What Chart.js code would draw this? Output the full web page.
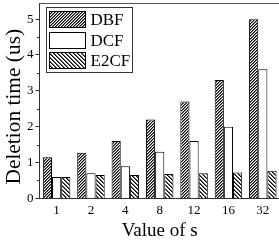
<!DOCTYPE html>
<html><head><meta charset="utf-8">
<script src="https://cdn.jsdelivr.net/npm/chart.js@4"></script>
<style>
html,body{margin:0;padding:0;overflow:hidden;background:#fff;width:279px;height:244px}
#wrap{width:281px;height:244px;position:relative}
</style>
</head><body><div id="wrap"><canvas id="c"></canvas></div>
<script>
const categories = ['1','2','4','8','12','16','32'];
const seriesNames = ['DBF','DCF','E2CF'];
const dbfValues = [1.15, 1.27, 1.6, 2.2, 2.7, 3.3, 5.0];
const dcfValues = [0.6, 0.7, 0.9, 1.3, 1.6, 2.0, 3.6];
const e2cfValues = [0.6, 0.65, 0.65, 0.68, 0.7, 0.72, 0.77];
const yTickValues = [0, 1, 2, 3, 4, 5];
const yMinorTickValues = [0.5, 1.5, 2.5, 3.5, 4.5];

const SERIF = '"Liberation Serif", "Times New Roman", serif';

function hatch(period, dir, shades) {
  const c = document.createElement('canvas');
  c.width = c.height = period;
  const g = c.getContext('2d');
  g.fillStyle = '#fff'; g.fillRect(0, 0, period, period);
  for (let y = 0; y < period; y++) for (let x = 0; x < period; x++) {
    const k = dir > 0 ? (x + y) % period : ((x - y) % period + period) % period;
    if (shades[k]) { g.fillStyle = shades[k]; g.fillRect(x, y, 1, 1); }
  }
  return g.createPattern(c, 'repeat');
}
const ctx = document.getElementById('c').getContext('2d');
const patDBF = hatch(3, 1, ['#000', '#777', null]);
const patE2CF = hatch(4, -1, ['#000', '#666', null, null]);

const framePlugin = {
  id: 'frame',
  afterLayout(chart) {
    const ys = chart.scales.y;
    if (!ys._titleShifted) {
      const orig = ys.drawTitle;
      ys.drawTitle = function () {
        const c = this.ctx; c.save(); c.translate(0, 6); orig.apply(this, arguments); c.restore();
      };
      ys._titleShifted = true;
    }
  },
  afterDraw(chart) {
    const { ctx, chartArea: a } = chart;
    ctx.save();
    ctx.strokeStyle = '#555'; ctx.lineWidth = 1;
    ctx.beginPath();
    const t = Math.round(a.top) + 0.5;
    ctx.moveTo(a.left, t); ctx.lineTo(a.right, t);
    ctx.moveTo(Math.round(a.right) - 0.5, t); ctx.lineTo(Math.round(a.right) - 0.5, a.bottom);
    ctx.stroke();
    const ys = chart.scales.y;
    ctx.strokeStyle = '#333';
    ctx.beginPath();
    yMinorTickValues.forEach(v => {
      const p = Math.round(ys.getPixelForValue(v)) + 0.5;
      ctx.moveTo(a.left - 2.5, p); ctx.lineTo(a.left, p);
    });
    ctx.stroke();
    ctx.restore();
  }
};

const legendPlugin = {
  id: 'boxLegend',
  afterDraw(chart) {
    const { ctx, chartArea: a } = chart;
    const x0 = Math.round(a.left) + 7.5, y0 = Math.round(a.top) + 4.5, w = 86, h = 65;
    ctx.save();
    ctx.fillStyle = '#fff'; ctx.fillRect(x0, y0, w, h);
    ctx.strokeStyle = '#333'; ctx.lineWidth = 1; ctx.strokeRect(x0, y0, w, h);
    chart.data.datasets.forEach((ds, i) => {
      const bx = x0 + 2.5, by = Math.round(y0 + 3.5 + i * 20.5);
      ctx.fillStyle = ds.backgroundColor; ctx.fillRect(bx, by, 37, 17);
      ctx.strokeStyle = '#000'; ctx.strokeRect(bx + 0.5, by + 0.5, 36, 16);
      ctx.fillStyle = '#000'; ctx.font = '17px ' + SERIF; ctx.textBaseline = 'middle';
      ctx.fillText(ds.label, bx + 41.5, by + 9.5);
    });
    ctx.restore();
  }
};

new Chart(ctx, {
  type: 'bar',
  data: {
    labels: categories,
    datasets: [
      { label: seriesNames[0], data: dbfValues, backgroundColor: patDBF, borderColor: '#000', borderWidth: 1 },
      { label: seriesNames[1], data: dcfValues, backgroundColor: '#fff', borderColor: '#000', borderWidth: 1 },
      { label: seriesNames[2], data: e2cfValues, backgroundColor: patE2CF, borderColor: '#000', borderWidth: 1 }
    ]
  },
  options: {
    responsive: true, maintainAspectRatio: false, animation: false,
    layout: { padding: { left: 3.5, top: 3, right: 1, bottom: 0 } },
    datasets: { bar: { categoryPercentage: 0.8, barPercentage: 1 } },
    plugins: { legend: { display: false }, tooltip: { enabled: false } },
    scales: {
      x: {
        grid: { display: false, drawTicks: false },
        border: { color: '#333', width: 1 },
        ticks: { font: { family: SERIF, size: 13 }, color: '#000', padding: 4, maxRotation: 0, autoSkip: false },
        title: { display: true, text: 'Value of s', font: { family: SERIF, size: 19, lineHeight: 1 }, color: '#000', padding: { top: 0, bottom: 3 } },
        afterFit: s => { s.paddingLeft = 0; s.paddingRight = 0; }
      },
      y: {
        min: 0, max: 5.45,
        afterBuildTicks: s => { s.ticks = yTickValues.map(v => ({ value: v })); },
        ticks: { font: { family: SERIF, size: 13 }, color: '#000', padding: 2, callback: v => String(v) },
        grid: { drawOnChartArea: false, drawTicks: true, tickLength: 4, color: '#333' },
        border: { color: '#333', width: 1 },
        title: { display: true, text: 'Deletion time (us)', font: { family: SERIF, size: 21.4, lineHeight: 1 }, color: '#000', padding: 0 },
        afterFit: s => { s.paddingTop = 0; s.paddingBottom = 0; }
      }
    }
  },
  plugins: [framePlugin, legendPlugin]
});
</script>
</body></html>
